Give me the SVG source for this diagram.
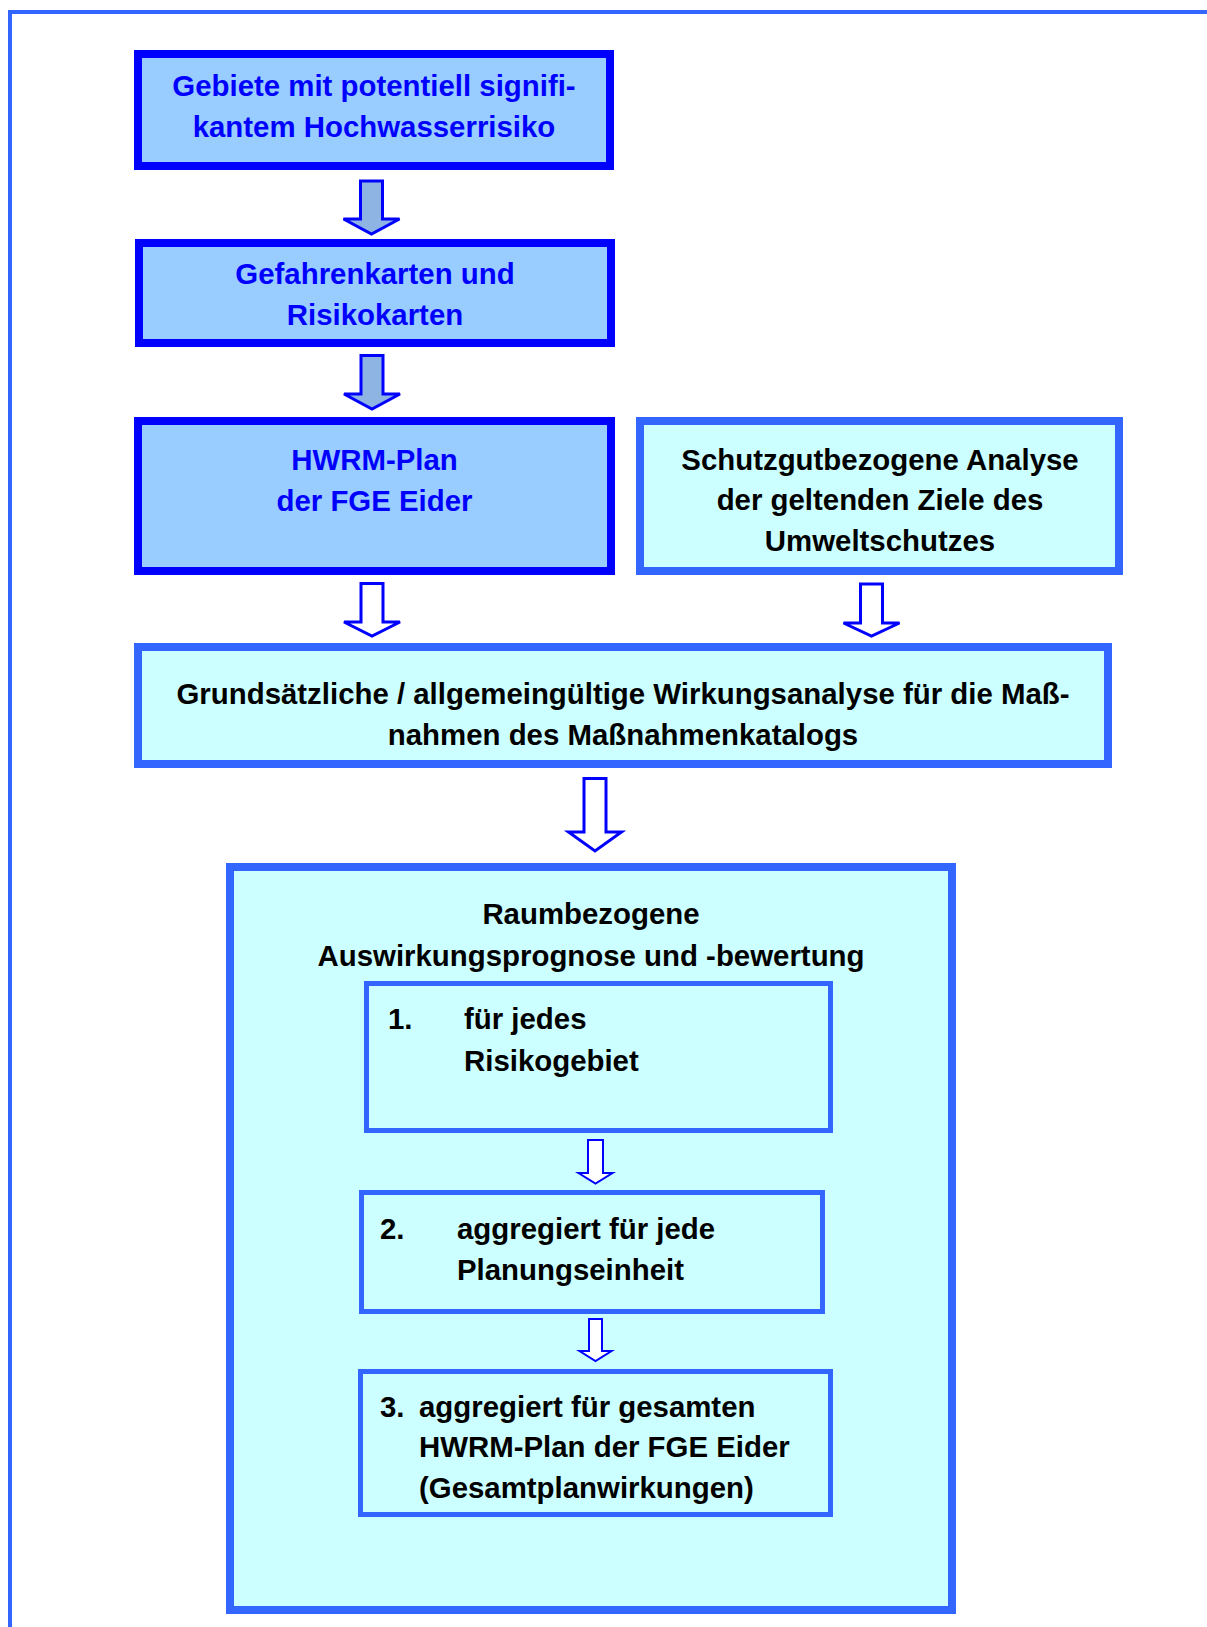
<svg xmlns="http://www.w3.org/2000/svg" width="1207" height="1627" viewBox="0 0 1207 1627">
<style>
text{font-family:"Liberation Sans",Arial,sans-serif;font-weight:bold;font-size:29.4px}
.c{text-anchor:middle}
.bl{fill:#0000FF}
.k{fill:#000000}
.dark{fill:#99CCFF;stroke:#0000FF;stroke-width:8}
.light{fill:#CCFFFF;stroke:#3366FF;stroke-width:8}
.sub{fill:#CCFFFF;stroke:#3366FF;stroke-width:5}
.af{fill:#8EB4E3;stroke:#0000FF;stroke-width:3;stroke-linejoin:miter}
.aw{fill:#FFFFFF;stroke:#0000FF;stroke-width:3;stroke-linejoin:miter}
.as{fill:#FFFFFF;stroke:#0000FF;stroke-width:2;stroke-linejoin:miter}
</style>
<rect width="1207" height="1627" fill="#FFFFFF"/>
<rect x="10" y="12" width="1230" height="1640" fill="none" stroke="#3366FF" stroke-width="4"/>

<g id="node1">
<rect class="dark" x="138" y="54" width="472" height="112"/>
<text class="c bl" x="374" y="96">Gebiete mit potentiell signifi-</text>
<text class="c bl" x="374" y="137">kantem Hochwasserrisiko</text>
</g>
<g id="node2">
<rect class="dark" x="139" y="243" width="472" height="100"/>
<text class="c bl" x="375" y="284">Gefahrenkarten und</text>
<text class="c bl" x="375" y="325">Risikokarten</text>
</g>
<g id="node3">
<rect class="dark" x="138" y="421" width="473" height="150"/>
<text class="c bl" x="374.5" y="470">HWRM-Plan</text>
<text class="c bl" x="374.5" y="511">der FGE Eider</text>
</g>
<g id="node4">
<rect class="light" x="640" y="421" width="479" height="150"/>
<text class="c k" x="880" y="470">Schutzgutbezogene Analyse</text>
<text class="c k" x="880" y="510">der geltenden Ziele des</text>
<text class="c k" x="880" y="551">Umweltschutzes</text>
</g>
<g id="node5">
<rect class="light" x="138" y="647" width="970" height="117"/>
<text class="c k" x="623" y="704">Grundsätzliche / allgemeingültige Wirkungsanalyse für die Maß-</text>
<text class="c k" x="623" y="745">nahmen des Maßnahmenkatalogs</text>
</g>
<g id="node6">
<rect class="light" x="230" y="867" width="722" height="743"/>
<text class="c k" x="591" y="924">Raumbezogene</text>
<text class="c k" x="591" y="966">Auswirkungsprognose und -bewertung</text>
</g>
<g id="node7">
<rect class="sub" x="366.5" y="983.5" width="464" height="147"/>
<text class="k" x="388" y="1029">1.</text>
<text class="k" x="464" y="1029">für jedes</text>
<text class="k" x="464" y="1071">Risikogebiet</text>
</g>
<g id="node8">
<rect class="sub" x="361.5" y="1192.5" width="461" height="119"/>
<text class="k" x="380" y="1239">2.</text>
<text class="k" x="457" y="1239">aggregiert für jede</text>
<text class="k" x="457" y="1280">Planungseinheit</text>
</g>
<g id="node9">
<rect class="sub" x="360.5" y="1371.5" width="470" height="143"/>
<text class="k" x="380" y="1417">3.</text>
<text class="k" x="419" y="1417">aggregiert für gesamten</text>
<text class="k" x="419" y="1457">HWRM-Plan der FGE Eider</text>
<text class="k" x="419" y="1498">(Gesamtplanwirkungen)</text>
</g>

<g id="connectors">
<polygon class="af" points="360.5,181 382.5,181 382.5,219 399.5,219 371.5,234 343.5,219 360.5,219"/>
<polygon class="af" points="361,355.5 383,355.5 383,394 400,394 372,409 344,394 361,394"/>
<polygon class="aw" points="361,583.5 383,583.5 383,622 400,622 372,636 344,622 361,622"/>
<polygon class="aw" points="860.5,584 882.5,584 882.5,623 899.5,623 871.5,636 843.5,623 860.5,623"/>
<polygon class="aw" points="584,778.5 606,778.5 606,832 621.5,832 595,851 568.5,832 584,832"/>
<polygon class="as" points="588,1140 603,1140 603,1173 612.5,1173 595.5,1183.5 578.5,1173 588,1173"/>
<polygon class="as" points="589,1319 602,1319 602,1351 611.5,1351 595.5,1361 579.5,1351 589,1351"/>
</g>
</svg>
